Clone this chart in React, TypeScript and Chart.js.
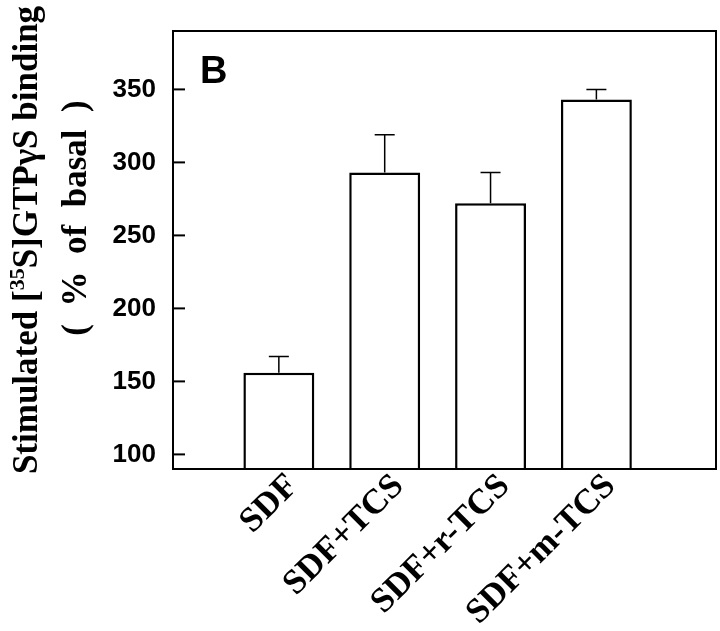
import React, { useEffect, useRef } from "react";
import { Chart, registerables } from "chart.js";

Chart.register(...registerables);

const categories = ["SDF", "SDF+TCS", "SDF+r-TCS", "SDF+m-TCS"];
const positions = [1, 2, 3, 4];
const values = [156, 293, 272, 343];
const errors = [11, 26, 21, 7];
const yTicks = [100, 150, 200, 250, 300, 350];
const yMin = 90;
const yMax = 390;
const xMin = 0;
const xMax = 5.13;
const panelLabel = "B";
const titleLine1a = "Stimulated [";
const titleSup = "35";
const titleLine1b = "S]GTPγS binding";
const titleLine2 = "(  %  of  basal  )";

const decorPlugin = {
  id: "decor",
  afterDatasetsDraw(chart: any) {
    const ctx = chart.ctx;
    const ys = chart.scales.y;
    const meta = chart.getDatasetMeta(0);
    ctx.save();
    ctx.strokeStyle = "#000";
    ctx.lineWidth = 1.5;
    meta.data.forEach((el: any, i: number) => {
      const top = ys.getPixelForValue(values[i] + errors[i]);
      const base = el.y;
      ctx.beginPath();
      ctx.moveTo(el.x, base);
      ctx.lineTo(el.x, top);
      ctx.moveTo(el.x - 10, top);
      ctx.lineTo(el.x + 10, top);
      ctx.stroke();
    });
    ctx.restore();
  },
  afterDraw(chart: any) {
    const ctx = chart.ctx;
    const { left, right, top, bottom } = chart.chartArea;
    const ys = chart.scales.y;
    ctx.save();
    ctx.strokeStyle = "#000";
    ctx.lineWidth = 2;
    ctx.strokeRect(left, top, right - left, bottom - top);
    // inward ticks
    yTicks.forEach((v) => {
      const y = ys.getPixelForValue(v);
      ctx.beginPath();
      ctx.moveTo(left, y);
      ctx.lineTo(left + 12, y);
      ctx.stroke();
    });
    // panel label
    ctx.fillStyle = "#000";
    ctx.font = 'bold 38px "Liberation Sans", Arial, sans-serif';
    ctx.textBaseline = "alphabetic";
    ctx.textAlign = "left";
    ctx.fillText(panelLabel, left + 27, top + 52);
    // y title
    const mainFont = 'bold 35px "Liberation Serif", "Times New Roman", serif';
    const supFont = 'bold 22px "Liberation Serif", "Times New Roman", serif';
    ctx.save();
    ctx.translate(37, 240);
    ctx.rotate(-Math.PI / 2);
    ctx.font = mainFont;
    const wa = ctx.measureText(titleLine1a).width;
    const wb = ctx.measureText(titleLine1b).width;
    ctx.font = supFont;
    const ws = ctx.measureText(titleSup).width;
    const total = wa + ws + wb;
    let x0 = -total / 2;
    ctx.font = mainFont;
    ctx.fillText(titleLine1a, x0, 0);
    ctx.font = supFont;
    ctx.fillText(titleSup, x0 + wa, -13);
    ctx.font = mainFont;
    ctx.fillText(titleLine1b, x0 + wa + ws, 0);
    ctx.restore();
    ctx.save();
    ctx.translate(86, 218);
    ctx.rotate(-Math.PI / 2);
    ctx.font = mainFont;
    ctx.textAlign = "center";
    ctx.fillText(titleLine2, 0, 0);
    ctx.restore();
    ctx.restore();
  },
};

export default function App() {
  const ref = useRef<HTMLCanvasElement>(null);
  useEffect(() => {
    if (!ref.current) return;
    const chart = new Chart(ref.current, {
      type: "bar",
      data: {
        datasets: [
          {
            data: positions.map((p, i) => ({ x: p, y: values[i] })),
            backgroundColor: "#ffffff",
            borderColor: "#000000",
            borderWidth: 2.5,
            barPercentage: 0.67,
            categoryPercentage: 1,
          },
        ],
      },
      options: {
        animation: false,
        responsive: false,
        devicePixelRatio: 1,
        layout: { padding: { top: 31, right: 4, left: 0, bottom: 0 } },
        plugins: { legend: { display: false }, tooltip: { enabled: false } },
        scales: {
          x: {
            type: "linear",
            offset: false,
            min: xMin,
            max: xMax,
            afterBuildTicks: (s: any) => {
              s.ticks = positions.map((v) => ({ value: v }));
            },
            afterFit: (s: any) => {
              s.height = 162;
              s.paddingLeft = 0;
              s.paddingRight = 0;
            },
            ticks: {
              autoSkip: false,
              minRotation: 45,
              maxRotation: 45,
              padding: -3,
              labelOffset: 14,
              color: "#000",
              font: { family: '"Liberation Serif", "Times New Roman", serif', weight: "bold", size: 35 },
              callback: (v: any) => {
                const i = positions.indexOf(Number(v));
                return i >= 0 ? categories[i] : "";
              },
            },
            grid: { display: false, drawTicks: false, offset: false },
            border: { display: true, color: "#000", width: 2 },
          },
          y: {
            min: yMin,
            max: yMax,
            afterBuildTicks: (s: any) => {
              s.ticks = yTicks.map((v) => ({ value: v }));
            },
            afterFit: (s: any) => {
              s.width = 173;
              s.paddingTop = 0;
              s.paddingBottom = 0;
            },
            ticks: {
              padding: 17,
              color: "#000",
              font: { family: '"Liberation Sans", Arial, sans-serif', weight: "bold", size: 26 },
            },
            grid: { display: false, drawTicks: false },
            border: { display: true, color: "#000", width: 2 },
          },
        },
      },
      plugins: [decorPlugin],
    } as any);
    return () => chart.destroy();
  }, []);
  return (
    <div style={{ position: "fixed", left: 0, top: 0, width: 720, height: 631, background: "#fff" }}>
      <canvas ref={ref} width={720} height={631} style={{ width: 720, height: 631, display: "block" }} />
    </div>
  );
}
